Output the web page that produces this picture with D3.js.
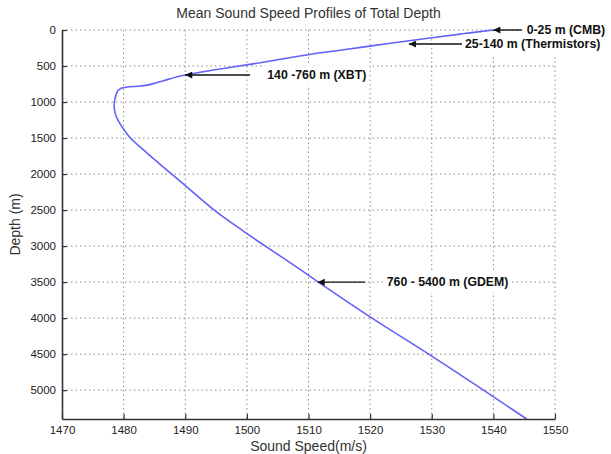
<!doctype html>
<html>
<head>
<meta charset="utf-8">
<title>Mean Sound Speed Profiles</title>
<script src="https://cdn.jsdelivr.net/npm/d3@7"></script>
<style>
  body { margin: 0; background: #fff; }
  text { font-family: Arial, "Liberation Sans", sans-serif; }
</style>
</head>
<body>
<script>
// profile: depth (m) and mean sound speed (m/s)
const depth = [0, 50, 107, 185, 278, 333, 417, 470, 546, 625, 700, 740, 765, 780, 792, 810, 850, 920,
  1000, 1100, 1200, 1300, 1400, 1500, 1708, 2000, 2180, 2500, 2778, 3000, 3333, 3500, 4000, 4500, 5000, 5400];
const speed = [1540.0, 1535.3, 1530.0, 1523.3, 1515.4, 1510.6, 1504.8, 1501.0, 1495.4, 1490.0, 1486.6, 1485.0, 1483.8, 1482.3, 1480.6, 1479.6, 1479.0, 1478.7,
  1478.5, 1478.5, 1478.8, 1479.4, 1480.2, 1481.1, 1483.8, 1487.8, 1490.3, 1494.7, 1499.2, 1503.0, 1508.8, 1511.6, 1520.3, 1529.5, 1538.4, 1545.4];

const xTicks = [1470, 1480, 1490, 1500, 1510, 1520, 1530, 1540, 1550];
const yTicks = [0, 500, 1000, 1500, 2000, 2500, 3000, 3500, 4000, 4500, 5000];

// annotations: label, arrow tip (speed, depth), arrow tail speed, text start speed
const noteLabels = ["0-25 m (CMB)", "25-140 m (Thermistors)", "140 -760 m (XBT)", "760 - 5400 m (GDEM)"];
const noteTipSpeed = [1540.0, 1526.3, 1490.0, 1511.5];
const noteTipDepth = [0, 195, 625, 3500];
const noteTailSpeed = [1544.6, 1534.9, 1500.5, 1519.2];
const noteTextSpeed = [1545.4, 1535.4, 1503.3, 1522.7];

const W = 611, H = 454;
const m = {top: 30, right: 56, bottom: 35, left: 62};

const svg = d3.select("body").append("svg")
  .attr("width", W)
  .attr("height", H);

const x = d3.scaleLinear().domain([1470, 1550]).range([m.left, W - m.right]);
const y = d3.scaleLinear().domain([0, 5400]).range([m.top, H - m.bottom]);

// dotted grid
const grid = svg.append("g")
  .attr("stroke", "#8c8c8c")
  .attr("stroke-width", 1)
  .attr("stroke-dasharray", "1.5,3");

grid.selectAll(".vg")
  .data(xTicks.slice(1))
  .enter()
  .append("line")
  .attr("x1", d => x(d)).attr("x2", d => x(d))
  .attr("y1", y(0)).attr("y2", y(5400));

grid.selectAll(".hg")
  .data(yTicks)
  .enter()
  .append("line")
  .attr("x1", x(1470)).attr("x2", x(1550))
  .attr("y1", d => y(d)).attr("y2", d => y(d));

// the profile
const pts = depth.map((d, i) => [speed[i], d]);
const line = d3.line()
  .x(d => x(d[0]))
  .y(d => y(d[1]))
  .curve(d3.curveCatmullRom.alpha(0.5));

svg.append("path")
  .datum(pts)
  .attr("fill", "none")
  .attr("stroke", "#6262f8")
  .attr("stroke-width", 1.6)
  .attr("d", line);

// axes, ticks pointing inward like matlab
const xAxis = svg.append("g")
  .attr("transform", `translate(0,${H - m.bottom})`)
  .call(d3.axisBottom(x).tickValues(xTicks).tickFormat(d3.format("d"))
    .tickSize(-5).tickSizeOuter(0).tickPadding(7));

const yAxis = svg.append("g")
  .attr("transform", `translate(${m.left},0)`)
  .call(d3.axisLeft(y).tickValues(yTicks).tickFormat(d3.format("d"))
    .tickSize(-5).tickSizeOuter(0).tickPadding(6));

[xAxis, yAxis].forEach(g => {
  g.select(".domain").attr("stroke", "#333").attr("stroke-width", 1.6);
  g.selectAll(".tick line").attr("stroke", "#333").attr("stroke-width", 1.2);
  g.selectAll(".tick text")
    .attr("fill", "#222")
    .style("font-size", "11.5px")
    .style("font-family", "Arial, 'Liberation Sans', sans-serif");
});

// titles
svg.append("text")
  .attr("x", (x(1470) + x(1550)) / 2)
  .attr("y", 18)
  .attr("text-anchor", "middle")
  .attr("fill", "#333")
  .style("font-size", "14px")
  .text("Mean Sound Speed Profiles of Total Depth");

svg.append("text")
  .attr("x", (x(1470) + x(1550)) / 2)
  .attr("y", 451)
  .attr("text-anchor", "middle")
  .attr("fill", "#333")
  .style("font-size", "14px")
  .text("Sound Speed(m/s)");

svg.append("text")
  .attr("transform", `translate(20,${(y(0) + y(5400)) / 2}) rotate(-90)`)
  .attr("text-anchor", "middle")
  .attr("fill", "#333")
  .style("font-size", "14px")
  .text("Depth (m)");

// annotations with arrows
svg.append("defs").append("marker")
  .attr("id", "head")
  .attr("viewBox", "0 0 10 10")
  .attr("refX", 10).attr("refY", 5)
  .attr("markerWidth", 9).attr("markerHeight", 7)
  .attr("markerUnits", "userSpaceOnUse")
  .attr("orient", "auto")
  .append("path")
  .attr("d", "M0,0L10,5L0,10z")
  .attr("fill", "#111");

// white boxes first so they never hide a neighbouring label
const boxLayer = svg.append("g");
const noteLayer = svg.append("g");
noteLabels.forEach((lab, i) => {
  const bg = boxLayer.append("rect").attr("fill", "#fff");
  const t = noteLayer.append("text")
    .attr("x", x(noteTextSpeed[i]))
    .attr("y", y(noteTipDepth[i]))
    .attr("dy", "0.35em")
    .attr("fill", "#111")
    .style("font-size", "12.3px")
    .style("font-weight", "bold")
    .text(lab);
  const b = t.node().getBBox();
  bg.attr("x", b.x - 3).attr("y", b.y - 3)
    .attr("width", b.width + 6).attr("height", b.height + 6);
  noteLayer.append("line")
    .attr("x1", x(noteTailSpeed[i]))
    .attr("x2", x(noteTipSpeed[i]))
    .attr("y1", y(noteTipDepth[i]))
    .attr("y2", y(noteTipDepth[i]))
    .attr("stroke", "#111")
    .attr("stroke-width", 1.4)
    .attr("marker-end", "url(#head)");
});
</script>
</body>
</html>
